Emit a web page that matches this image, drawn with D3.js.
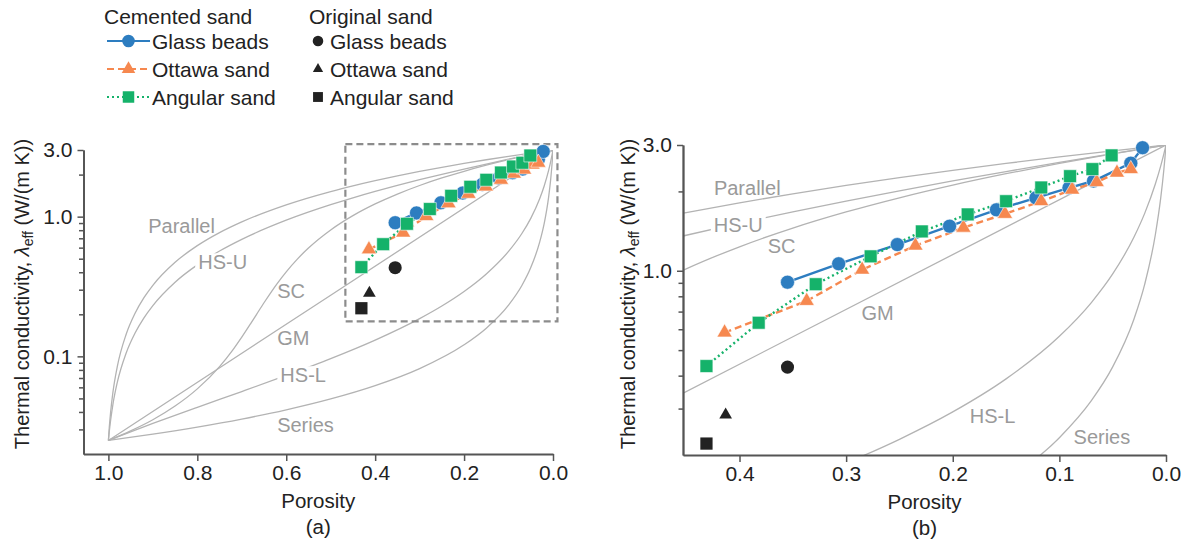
<!DOCTYPE html>
<html>
<head>
<meta charset="utf-8">
<script src="https://cdn.jsdelivr.net/npm/d3@7"></script>
<style>
  body { margin: 0; background: #fff; }
  svg text { font-family: "Liberation Sans", Arial, Helvetica, sans-serif; }
</style>
</head>
<body>
<svg id="chart" width="1192" height="543"></svg>
<script>
// ---- Model bounds and estimates: [porosity, effective conductivity W/(m K)] ----
const parallelCurve = [[1,0.025],[0.998,0.031],[0.995,0.0399],[0.99,0.0548],[0.98,0.0845],[0.96,0.144],
  [0.94,0.2035],[0.92,0.263],[0.9,0.3225],[0.85,0.4713],[0.8,0.62],[0.75,0.7688],[0.7,0.9175],[0.6,1.215],
  [0.5,1.5125],[0.45,1.661],[0.4,1.81],[0.35,1.959],[0.3,2.108],[0.25,2.256],[0.2,2.405],[0.15,2.554],
  [0.1,2.703],[0.05,2.851],[0,3.0]];
const hsUpperCurve = [[1,0.025],[0.998,0.029],[0.995,0.0349],[0.99,0.045],[0.98,0.0651],[0.96,0.1057],
  [0.94,0.1469],[0.92,0.1886],[0.9,0.2309],[0.85,0.3393],[0.8,0.4515],[0.75,0.5677],[0.7,0.6882],[0.6,0.943],
  [0.5,1.2179],[0.45,1.3638],[0.4,1.5156],[0.35,1.6738],[0.3,1.8388],[0.25,2.0111],[0.2,2.1911],[0.15,2.3794],
  [0.1,2.5765],[0.05,2.7832],[0,3.0]];
const scCurve = [[1,0.025],[0.95,0.0293],[0.9,0.0352],[0.85,0.0441],[0.8,0.0585],[0.75,0.0845],[0.72,0.1113],
  [0.7,0.1372],[0.68,0.1716],[0.667,0.1992],[0.65,0.2419],[0.62,0.3333],[0.6,0.403],[0.575,0.497],[0.55,0.596],
  [0.5,0.803],[0.45,1.0163],[0.4,1.2329],[0.35,1.4515],[0.3,1.6712],[0.25,1.8917],[0.2,2.1128],[0.15,2.3342],
  [0.1,2.5559],[0.05,2.7779],[0,3.0]];
const gmCurve = [[1,0.025],[0.5,0.2739],[0,3.0]];
const hsLowerCurve = [[1,0.025],[0.9,0.0331],[0.8,0.0432],[0.7,0.056],[0.6,0.073],[0.5,0.0964],[0.4,0.1308],
  [0.3,0.1864],[0.25,0.2294],[0.2,0.2914],[0.15,0.3889],[0.1,0.5641],[0.07,0.7576],[0.05,0.9724],[0.03,1.3427],
  [0.02,1.6508],[0.01,2.1338],[0.005,2.4952],[0.002,2.7758],[0,3.0]];
const seriesCurve = [[1,0.025],[0.9,0.02775],[0.8,0.03119],[0.7,0.03559],[0.6,0.04144],[0.5,0.04959],
  [0.4,0.06173],[0.3,0.08174],[0.2,0.121],[0.15,0.1592],[0.1,0.2326],[0.07,0.3215],[0.05,0.4317],[0.03,0.6565],
  [0.02,0.8876],[0.01,1.3699],[0.005,1.8809],[0.002,2.4233],[0.001,2.681],[0,3.0]];

// ---- Measurements ----
const cementedGlass = [[0.355,0.905],[0.307,1.063],[0.252,1.257],[0.203,1.476],[0.159,1.703],[0.122,1.89],
  [0.091,2.063],[0.068,2.19],[0.033,2.56],[0.022,2.93]];
const cementedOttawa = [[0.414,0.583],[0.337,0.768],[0.285,1.009],[0.235,1.245],[0.19,1.456],[0.151,1.643],
  [0.117,1.836],[0.088,2.03],[0.065,2.17],[0.046,2.355],[0.033,2.43]];
const cementedAngular = [[0.431,0.435],[0.382,0.635],[0.3285,0.889],[0.277,1.134],[0.229,1.41],[0.186,1.636],
  [0.15,1.836],[0.117,2.07],[0.09,2.285],[0.069,2.43],[0.051,2.74]];
const originalGlass = [[0.355,0.431]];
const originalOttawa = [[0.413,0.284]];
const originalAngular = [[0.431,0.221]];

// ---- Tick values ----
const xTicksA = [1.0, 0.8, 0.6, 0.4, 0.2, 0.0];
const yMajorA = [3.0, 1.0, 0.1];
const yMinorA = [2, 0.9, 0.8, 0.7, 0.6, 0.5, 0.4, 0.3, 0.2, 0.09, 0.08, 0.07, 0.06, 0.05, 0.04, 0.03];
const xTicksB = [0.4, 0.3, 0.2, 0.1, 0.0];
const yMajorB = [3.0, 1.0];
const yMinorB = [2, 0.9, 0.8, 0.7, 0.6, 0.5, 0.4, 0.3];

const modelNames = ["Parallel", "HS-U", "SC", "GM", "HS-L", "Series"];
const modelCurves = [parallelCurve, hsUpperCurve, scCurve, gmCurve, hsLowerCurve, seriesCurve];

const COL = { blue: "#2d7dc0", orange: "#f6884f", green: "#15b26a", black: "#222", model: "#b3b3b3",
  modelText: "#9a9a9a", axis: "#555", text: "#222" };

const svg = d3.select("#chart");
const defs = svg.append("defs");

const cemented = [
  { name: "Glass beads", data: cementedGlass, color: COL.blue, dash: null, symbol: d3.symbolCircle, size: 155 },
  { name: "Ottawa sand", data: cementedOttawa, color: COL.orange, dash: "7,4", symbol: d3.symbolTriangle, size: 100 },
  { name: "Angular sand", data: cementedAngular, color: COL.green, dash: "2,3", symbol: d3.symbolSquare, size: 165 }
];
const original = [
  { name: "Glass beads", data: originalGlass, symbol: d3.symbolCircle, size: 135 },
  { name: "Ottawa sand", data: originalOttawa, symbol: d3.symbolTriangle, size: 70 },
  { name: "Angular sand", data: originalAngular, symbol: d3.symbolSquare, size: 150 }
];

function drawPanel(p) {
  const x = d3.scaleLinear().domain(p.xDomain).range(p.xRange);
  const y = d3.scaleLog().domain(p.yDomain).range(p.yRange);
  const g = svg.append("g");

  const clipId = "clip-" + p.id;
  defs.append("clipPath").attr("id", clipId).append("rect")
    .attr("x", p.xRange[0]).attr("y", p.yRange[1])
    .attr("width", p.xRange[1] - p.xRange[0]).attr("height", p.yRange[0] - p.yRange[1]);

  // model curves
  const line = d3.line().x(d => x(d[0])).y(d => y(d[1])).curve(d3.curveMonotoneX);
  const curves = g.append("g").attr("clip-path", `url(#${clipId})`);
  modelCurves.forEach(c => {
    curves.append("path").attr("d", line(c)).attr("fill", "none")
      .attr("stroke", COL.model).attr("stroke-width", 1.3);
  });

  // model labels; some sit on their own curve and mask it
  modelNames.forEach((name, i) => {
    const pos = p.labels[i];
    const lg = g.append("g");
    const t = lg.append("text").attr("x", x(pos[0])).attr("y", y(pos[1])).attr("dy", "0.36em")
      .attr("font-size", 20).attr("fill", COL.modelText).text(name);
    if (p.masked.includes(name)) {
      const bb = t.node().getBBox();
      lg.insert("rect", "text").attr("x", bb.x - 3).attr("y", bb.y + 2)
        .attr("width", bb.width + 6).attr("height", bb.height - 4).attr("fill", "#fff");
    }
  });

  // zoom window outline
  if (p.box) {
    const b = p.box;
    g.append("rect").attr("x", x(b.x0)).attr("y", y(b.y1))
      .attr("width", x(b.x1) - x(b.x0)).attr("height", y(b.y0) - y(b.y1))
      .attr("fill", "none").attr("stroke", "#8c8c8c").attr("stroke-width", 2.2)
      .attr("stroke-dasharray", "7,4");
  }

  // measured series
  const dataLine = d3.line().x(d => x(d[0])).y(d => y(d[1]));
  cemented.forEach(s => {
    g.append("path").attr("d", dataLine(s.data)).attr("fill", "none")
      .attr("stroke", s.color).attr("stroke-width", 2.4)
      .attr("stroke-dasharray", s.dash);
  });
  cemented.forEach(s => {
    g.selectAll(null).data(s.data).join("path")
      .attr("transform", d => `translate(${x(d[0])},${y(d[1])})`)
      .attr("d", d3.symbol().type(s.symbol).size(s.size))
      .attr("fill", s.color).attr("stroke", "#fff").attr("stroke-width", 0.8).attr("stroke-opacity", 0.7);
  });
  original.forEach(s => {
    g.selectAll(null).data(s.data).join("path")
      .attr("transform", d => `translate(${x(d[0])},${y(d[1])})`)
      .attr("d", d3.symbol().type(s.symbol).size(s.size))
      .attr("fill", COL.black);
  });

  // axes
  const styleAxis = sel => {
    sel.select(".domain").attr("stroke", COL.axis).attr("stroke-width", 1.8);
    sel.selectAll(".tick line").attr("stroke", COL.axis).attr("stroke-width", 1.5);
    sel.selectAll("text").attr("font-size", 21).attr("fill", COL.text)
      .attr("font-family", "Liberation Sans, Arial, sans-serif");
  };
  const xAxis = g.append("g").attr("transform", `translate(0,${p.yRange[0]})`)
    .call(d3.axisBottom(x).tickValues(p.xTicks).tickFormat(d3.format(".1f"))
      .tickSize(7).tickSizeOuter(0).tickPadding(4));
  styleAxis(xAxis);

  const yMinor = g.append("g").attr("transform", `translate(${p.xRange[0]},0)`)
    .call(d3.axisLeft(y).tickValues(p.yMinor).tickFormat("").tickSize(4.5).tickSizeOuter(0));
  styleAxis(yMinor);
  const yAxis = g.append("g").attr("transform", `translate(${p.xRange[0]},0)`)
    .call(d3.axisLeft(y).tickValues(p.yMajor).tickFormat(d3.format(".1f"))
      .tickSize(6).tickSizeOuter(0).tickPadding(5));
  styleAxis(yAxis);

  // axis titles
  const cx = (p.xRange[0] + p.xRange[1]) / 2;
  g.append("text").attr("x", cx).attr("y", p.yRange[0] + 47).attr("dy", "0.36em")
    .attr("text-anchor", "middle").attr("font-size", 20.5).attr("fill", COL.text).text("Porosity");
  g.append("text").attr("x", cx).attr("y", p.yRange[0] + 73).attr("dy", "0.36em")
    .attr("text-anchor", "middle").attr("font-size", 20.5).attr("fill", COL.text).text(p.caption);

  const yt = g.append("text").attr("transform", `translate(${p.yTitleX},294) rotate(-90)`)
    .attr("text-anchor", "middle").attr("dy", "0.36em").attr("font-size", 20).attr("fill", COL.text);
  yt.append("tspan").text("Thermal conductivity, ");
  yt.append("tspan").attr("font-style", "italic").text("λ");
  yt.append("tspan").attr("font-size", 14).attr("dy", "4").text("eff");
  yt.append("tspan").attr("dy", "-4").text(" (W/(m K))");
}

drawPanel({
  id: "a", xDomain: [1.056, 0], xRange: [83.5, 553], yDomain: [0.02, 3.0], yRange: [454, 150],
  xTicks: xTicksA, yMajor: yMajorA, yMinor: yMinorA, caption: "(a)", yTitleX: 22,
  labels: [[0.9105, 0.855], [0.798, 0.4726], [0.6204, 0.293], [0.6204, 0.1351], [0.6132, 0.0735], [0.6204, 0.0322]],
  masked: ["HS-U", "HS-L"],
  box: { x0: 0.467, x1: -0.01, y0: 0.178, y1: 3.3 }
});
drawPanel({
  id: "b", xDomain: [0.453, 0], xRange: [683, 1166], yDomain: [0.2, 3.0], yRange: [455, 145],
  xTicks: xTicksB, yMajor: yMajorB, yMinor: yMinorB, caption: "(b)", yTitleX: 628,
  labels: [[0.424, 2.068], [0.4241, 1.498], [0.3735, 1.245], [0.2857, 0.694], [0.1841, 0.282], [0.0867, 0.2345]],
  masked: ["HS-U"],
  box: null
});

// ---- legend ----
const leg = svg.append("g");
leg.append("text").attr("x", 104).attr("y", 16).attr("dy", "0.36em").attr("font-size", 21)
  .attr("fill", COL.text).text("Cemented sand");
leg.append("text").attr("x", 309).attr("y", 16).attr("dy", "0.36em").attr("font-size", 21)
  .attr("fill", COL.text).text("Original sand");
const rowsY = [41, 69, 97];
cemented.forEach((s, i) => {
  const ry = rowsY[i];
  leg.append("line").attr("x1", 107).attr("x2", 150).attr("y1", ry).attr("y2", ry)
    .attr("stroke", s.color).attr("stroke-width", 2.2).attr("stroke-dasharray", s.dash);
  leg.append("path").attr("transform", `translate(128.5,${ry})`)
    .attr("d", d3.symbol().type(s.symbol).size(s.size * 0.8)).attr("fill", s.color);
  leg.append("text").attr("x", 152).attr("y", ry).attr("dy", "0.36em").attr("font-size", 21)
    .attr("fill", COL.text).text(s.name);
});
original.forEach((s, i) => {
  const ry = rowsY[i];
  leg.append("path").attr("transform", `translate(318,${ry})`)
    .attr("d", d3.symbol().type(s.symbol).size(s.size * 0.65)).attr("fill", COL.black);
  leg.append("text").attr("x", 330).attr("y", ry).attr("dy", "0.36em").attr("font-size", 21)
    .attr("fill", COL.text).text(s.name);
});
</script>
</body>
</html>
